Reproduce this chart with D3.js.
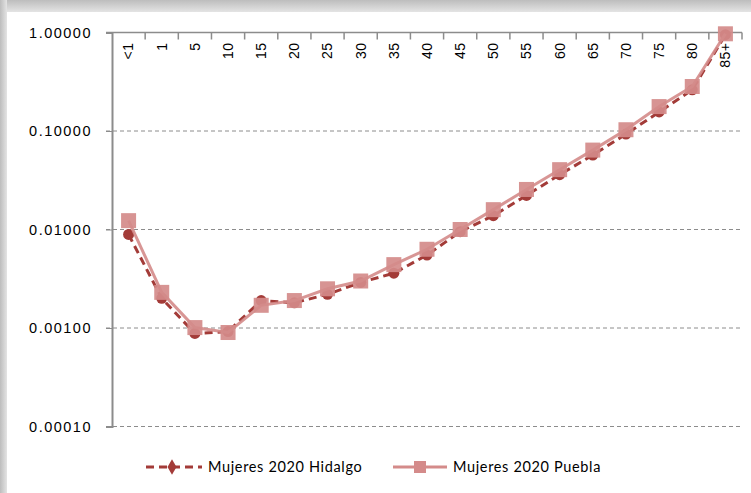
<!DOCTYPE html>
<html>
<head>
<meta charset="utf-8">
<title>Mujeres 2020 Hidalgo / Puebla</title>
<style>
body { margin: 0; padding: 0; background: #fff; }
svg { display: block; font-family: Lato, "Open Sans", sans-serif; }
</style>
<script src="https://d3js.org/d3.v7.min.js"></script>
</head>
<body>
<svg id="chart" width="751" height="493"></svg>
<script>
// age groups along the top axis
const ages = ["<1", "1", "5", "10", "15", "20", "25", "30", "35", "40", "45",
  "50", "55", "60", "65", "70", "75", "80", "85+"];

// values
const hidalgo = [0.0089, 0.0020, 0.00088, 0.00092, 0.0019, 0.0018, 0.0022, 0.0029,
  0.0036, 0.0055, 0.0095, 0.0138, 0.0222, 0.036, 0.057, 0.093, 0.156, 0.262, 0.95];
const puebla = [0.0123, 0.0023, 0.00101, 0.00090, 0.0017, 0.0019, 0.0025, 0.0030,
  0.0044, 0.0063, 0.0100, 0.0159, 0.0255, 0.0405, 0.064, 0.103, 0.177, 0.283, 0.97];

const yTicks = [1, 0.1, 0.01, 0.001, 0.0001];

const svg = d3.select("#chart");

// frame shadow
const defs = svg.append("defs");
const gTop = defs.append("linearGradient").attr("id", "shTop")
  .attr("x1", 0).attr("y1", 0).attr("x2", 0).attr("y2", 1);
gTop.append("stop").attr("offset", "0%").attr("stop-color", "#bdbdbd");
gTop.append("stop").attr("offset", "100%").attr("stop-color", "#e4e4e4");
const gLeft = defs.append("linearGradient").attr("id", "shLeft")
  .attr("x1", 0).attr("y1", 0).attr("x2", 1).attr("y2", 0);
gLeft.append("stop").attr("offset", "0%").attr("stop-color", "#bdbdbd");
gLeft.append("stop").attr("offset", "100%").attr("stop-color", "#e4e4e4");

svg.append("rect").attr("x", 0).attr("y", 0).attr("width", 751).attr("height", 12)
  .attr("fill", "url(#shTop)");
svg.append("rect").attr("x", 0).attr("y", 0).attr("width", 7).attr("height", 493)
  .attr("fill", "url(#shLeft)");
svg.append("rect").attr("x", 7).attr("y", 12).attr("width", 744).attr("height", 481)
  .attr("fill", "#fff");

const pLeft = 112, pRight = 742, pTop = 32.5, pBottom = 426.5;

const x = d3.scaleBand().domain(ages).range([pLeft, pRight]);
const y = d3.scaleLog().domain([0.0001, 1]).range([pBottom, pTop]);
const cx = d => x(d) + x.bandwidth() / 2;

// dashed gridlines
svg.append("g")
  .selectAll("line")
  .data(yTicks.filter(t => t < 1))
  .join("line")
  .attr("x1", pLeft - 6).attr("x2", pRight)
  .attr("y1", d => y(d)).attr("y2", d => y(d))
  .attr("stroke", "#8c8c8c").attr("stroke-width", 1)
  .attr("stroke-dasharray", "4,3");

// y axis
const yAxis = svg.append("g")
  .attr("transform", `translate(${pLeft},0)`)
  .call(d3.axisLeft(y).tickValues(yTicks).tickFormat(d3.format(".5f"))
    .tickSize(6).tickPadding(14));
yAxis.select(".domain").attr("stroke", "#8c8c8c").attr("stroke-width", 2);
yAxis.selectAll(".tick line").attr("stroke", "#8c8c8c");
yAxis.selectAll(".tick text").attr("font-size", 14.5).attr("fill", "#000")
  .attr("letter-spacing", "1.5px");

// x axis along the top (at value 1)
const xAxis = svg.append("g")
  .attr("transform", `translate(0,${pTop})`)
  .call(d3.axisBottom(x).tickSize(0).tickPadding(0));
xAxis.select(".domain").attr("stroke", "#8c8c8c").attr("stroke-width", 1.5)
  .attr("d", `M${pLeft - 6},0H${pRight}`);
xAxis.selectAll(".tick text")
  .attr("font-size", 14).attr("fill", "#000")
  .attr("text-anchor", "end")
  .attr("y", 0).attr("dy", "0.35em")
  .attr("letter-spacing", "0.5px")
  .attr("transform", "translate(0,10) rotate(-90)");
// category separators
svg.append("g")
  .selectAll("line")
  .data(ages)
  .join("line")
  .attr("x1", (d, i) => pLeft + (i + 1) * x.bandwidth())
  .attr("x2", (d, i) => pLeft + (i + 1) * x.bandwidth())
  .attr("y1", pTop).attr("y2", pTop + 7)
  .attr("stroke", "#8c8c8c").attr("stroke-width", 1.5);

const hColor = "#a33b38";
const pColor = "#d48b8a";

const line = d3.line().x((d, i) => cx(ages[i])).y(d => y(d));

// Hidalgo (dashed, circles)
svg.append("path").datum(hidalgo).attr("d", line)
  .attr("fill", "none").attr("stroke", hColor).attr("stroke-width", 3)
  .attr("stroke-dasharray", "8,5");
svg.append("g").selectAll("circle").data(hidalgo).join("circle")
  .attr("cx", (d, i) => cx(ages[i])).attr("cy", d => y(d)).attr("r", 5.5)
  .attr("fill", hColor);

// Puebla (solid, squares)
svg.append("path").datum(puebla).attr("d", line)
  .attr("fill", "none").attr("stroke", pColor).attr("stroke-width", 3)
  .attr("stroke-opacity", 0.9);
svg.append("g").selectAll("rect").data(puebla).join("rect")
  .attr("x", (d, i) => cx(ages[i]) - 7.5).attr("y", d => y(d) - 7.5)
  .attr("width", 15).attr("height", 15)
  .attr("fill", pColor).attr("fill-opacity", 0.92);

// legend
const ly = 467;
const lg = svg.append("g");
lg.append("line").attr("x1", 146).attr("x2", 202).attr("y1", ly).attr("y2", ly)
  .attr("stroke", hColor).attr("stroke-width", 3).attr("stroke-dasharray", "8,5");
lg.append("path").attr("d", d3.symbol(d3.symbolDiamond, 70)())
  .attr("transform", `translate(172,${ly})`).attr("fill", hColor);
lg.append("text").attr("x", 208).attr("y", ly).attr("dy", "0.35em")
  .attr("font-size", 14.5).attr("letter-spacing", "0.65px").text("Mujeres 2020 Hidalgo");

lg.append("line").attr("x1", 393).attr("x2", 447).attr("y1", ly).attr("y2", ly)
  .attr("stroke", pColor).attr("stroke-width", 3);
lg.append("rect").attr("x", 414).attr("y", ly - 6).attr("width", 12).attr("height", 12)
  .attr("fill", pColor);
lg.append("text").attr("x", 453).attr("y", ly).attr("dy", "0.35em")
  .attr("font-size", 14.5).attr("letter-spacing", "0.65px").text("Mujeres 2020 Puebla");
</script>
</body>
</html>
